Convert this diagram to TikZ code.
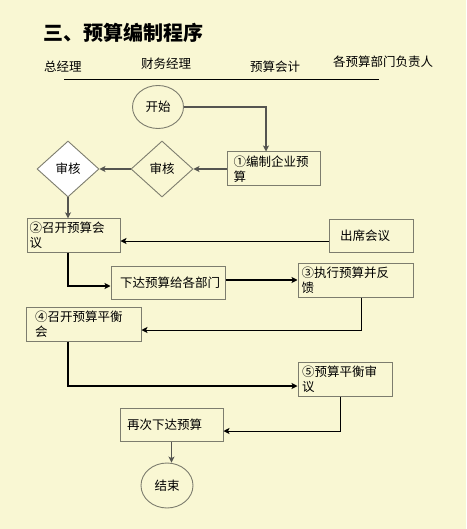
\documentclass[tikz,border=0pt]{standalone}
\usepackage{fontspec}
\setmainfont{Noto Sans CJK SC}
\usetikzlibrary{shapes.geometric,arrows.meta}
\definecolor{paper}{RGB}{249,247,211}
\definecolor{edgegray}{RGB}{125,125,110}
\definecolor{linegray}{RGB}{85,85,80}
\begin{document}
\begin{tikzpicture}[x=1pt,y=-1pt,
  txt/.style={font=\fontsize{12.5}{15}\selectfont,inner sep=0pt},
  box/.style={draw=edgegray,fill=paper,line width=1pt,align=left,font=\fontsize{12.5}{15}\selectfont},
  check/.style={diamond,draw=edgegray,line width=0.9pt,minimum width=62pt,minimum height=56pt,inner sep=0pt,font=\fontsize{12.5}{15}\selectfont},
  term/.style={ellipse,draw=edgegray,line width=0.9pt,minimum width=51pt,minimum height=43pt,inner sep=0pt,font=\fontsize{12.5}{15}\selectfont},
  grayarr/.style={-{Stealth[length=6pt,width=6pt,inset=1.5pt]},draw=linegray,line width=1.1pt},
  thinarr/.style={-{Stealth[length=6pt,width=6pt,inset=1.5pt]},draw=black,line width=0.9pt},
  thickarr/.style={-{Stealth[length=6pt,width=6pt,inset=1.5pt]},draw=black,line width=1.7pt}]
\fill[paper](0,0)rectangle(466,529);
\useasboundingbox(0,0)rectangle(466,529);
\node[anchor=west,font=\fontsize{20}{24}\selectfont\bfseries,inner sep=0pt](title)at(43,33){三、预算编制程序};
\node[txt,anchor=west](gm)at(44,67){总经理};
\node[txt,anchor=west](fm)at(141,64){财务经理};
\node[txt,anchor=west](acc)at(250,67){预算会计};
\node[txt,anchor=west](dept)at(333,62){各预算部门负责人};
\draw[line width=0.8pt](64,79)--(379,79);
%
\node[term](start)at(158,107){开始};
\node[box,inner xsep=6.5pt,text width=80pt,minimum height=34pt](plan)at(273.5,169){①编制企业预\\算};
\node[check,fill=paper](chk2)at(162,169){审核};
\node[check,fill=white](chk1)at(68,169){审核};
\node[box,inner xsep=2.5pt,text width=88pt,minimum height=33pt](meet)at(73.5,235.5){②召开预算会\\议};
\node[box,inner xsep=11pt,text width=62pt,minimum height=33pt](attend)at(371,235.5){出席会议};
\node[box,inner xsep=9pt,text width=96pt,minimum height=33pt](issue)at(168,282.5){下达预算给各部门};
\node[box,inner xsep=3.5pt,text width=108pt,minimum height=34pt](exec)at(355.5,280){③执行预算并反\\馈};
\node[box,inner xsep=9pt,text width=97pt,minimum height=33pt](balance)at(83.5,324.5){④召开预算平衡\\会};
\node[box,inner xsep=4pt,text width=86pt,minimum height=33pt](review)at(345,379.5){⑤预算平衡审\\议};
\node[box,inner xsep=7pt,text width=89pt,minimum height=33pt](reissue)at(171.5,424.5){再次下达预算};
\node[term,minimum width=52pt,minimum height=45pt](stop)at(167,485.5){结束};
%
\draw[grayarr](start.east)-|([xshift=-7.5pt]plan.north);
\draw[grayarr](plan.west)--(chk2.east);
\draw[grayarr](chk2.west)--(chk1.east);
\draw[grayarr](chk1.south)--(chk1.south|-meet.north);
\draw[thinarr]([yshift=-5.5pt]attend.west)--([yshift=-5.5pt]meet.east);
\draw[thickarr]([xshift=-5.5pt]meet.south)|-([yshift=-3.5pt]issue.west);
\draw[thickarr]([yshift=2.5pt]issue.east)--(exec.west);
\draw[thinarr]([xshift=5.5pt]exec.south)|-([yshift=-5.5pt]balance.east);
\draw[thickarr]([xshift=-15.5pt]balance.south)|-([yshift=-6.5pt]review.west);
\draw[thinarr]([xshift=-5pt]review.south)|-([yshift=-6.5pt]reissue.east);
\draw[grayarr](reissue.south)--(reissue.south|-stop.north);
\end{tikzpicture}
\end{document}
